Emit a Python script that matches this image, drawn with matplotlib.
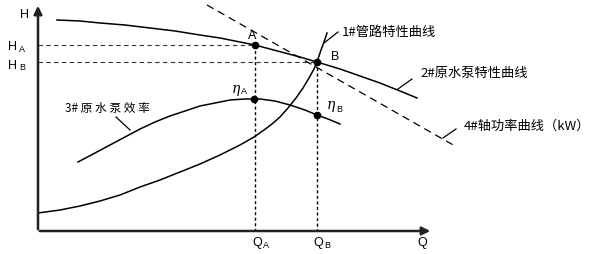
import matplotlib.pyplot as plt

plt.rcParams['font.family'] = ['Noto Sans CJK SC', 'DejaVu Sans']

# curve points (pixel space, y grows downward)
pump_x = [57, 80, 100, 125, 150, 175, 200, 220, 240, 255, 270, 285, 300, 317, 340, 360, 380, 400, 417]
pump_y = [20, 21, 23, 25, 28, 31, 35, 38, 42, 45, 49, 53, 57, 62, 69, 76, 83, 91, 98]

pipe_x = [38, 60, 80, 100, 120, 140, 160, 180, 200, 220, 240, 254, 264, 272, 280, 288, 296, 303, 309, 314, 317, 321, 324, 327]
pipe_y = [213, 210, 206, 201, 195, 187, 180, 172, 164, 155, 145, 137, 130, 124, 117, 108, 98, 88, 78, 69, 62, 50, 42, 33]

eff_x = [78, 95, 110, 125, 140, 155, 170, 185, 200, 215, 230, 245, 260, 275, 290, 305, 317, 328, 340]
eff_y = [162, 153, 145, 137, 129, 122, 116, 111, 106, 103, 100, 99, 99, 101, 105, 110, 115, 119, 124]

power_x = [207, 455]
power_y = [5, 146]

# operating points
pt_A = (255, 45)
pt_B = (317, 62)
eta_A = (254, 99)
eta_B = (317, 115)

labels = ['1#管路特性曲线', '2#原水泵特性曲线', '3# 原 水 泵 效 率', '4#轴功率曲线（kW）']


def main():
    fig = plt.figure(figsize=(6.08, 2.54), dpi=100)
    ax = fig.add_axes([0, 0, 1, 1])
    ax.set_xlim(0, 608)
    ax.set_ylim(254, 0)
    ax.axis('off')

    #axes with arrows
    ax.annotate('', xy=(38, 3), xytext=(38, 232),
                arrowprops=dict(arrowstyle='-|>', color='#222222', lw=1.8, mutation_scale=12))
    ax.annotate('', xy=(433, 231), xytext=(37, 231),
                arrowprops=dict(arrowstyle='-|>', color='#222222', lw=1.8, mutation_scale=12))

    #curves
    ax.plot(pump_x, pump_y, color='black', lw=1.1)
    ax.plot(pipe_x, pipe_y, color='black', lw=1.1)
    ax.plot(eff_x, eff_y, color='black', lw=1.1)
    ax.plot(power_x, power_y, color='black', lw=0.9, dashes=(6, 4))

    #guide lines
    ax.plot([38, pt_A[0]], [pt_A[1], pt_A[1]], color='#333333', lw=0.8, dashes=(4, 3))
    ax.plot([38, pt_B[0]], [pt_B[1], pt_B[1]], color='#333333', lw=0.8, dashes=(4, 3))
    ax.plot([pt_A[0], pt_A[0]], [pt_A[1], 231], color='black', lw=1.0, dashes=(2.2, 1.8))
    ax.plot([pt_B[0], pt_B[0]], [pt_B[1], 231], color='black', lw=1.0, dashes=(2.2, 1.8))

    for p in [pt_A, pt_B, eta_A, eta_B]:
        ax.plot(p[0], p[1], 'o', color='black', ms=4.5)

    #leader lines
    ax.plot([324, 338], [43, 32], color='black', lw=0.9)
    ax.plot([398, 412], [89, 79], color='black', lw=0.9)
    ax.plot([116, 130], [117, 130], color='black', lw=0.9)
    ax.plot([443, 456], [138, 129], color='black', lw=0.9)

    #text
    lab = dict(family='Liberation Sans', fontsize=9, color='black')
    sub = dict(family='Liberation Sans', fontsize=6.5, color='black')
    ax.text(20, 15, 'H', ha='left', va='center', **lab)
    ax.text(8, 47, 'H', ha='left', va='center', **lab)
    ax.text(19, 49, 'A', ha='left', va='center', **sub)
    ax.text(8, 66, 'H', ha='left', va='center', **lab)
    ax.text(19, 68, 'B', ha='left', va='center', **sub)
    ax.text(252, 243, 'Q', ha='left', va='center', **lab)
    ax.text(263, 245, 'A', ha='left', va='center', **sub)
    ax.text(313, 243, 'Q', ha='left', va='center', **lab)
    ax.text(324, 245, 'B', ha='left', va='center', **sub)
    ax.text(417, 243, 'Q', ha='left', va='center', **lab)
    ax.text(252, 36, 'A', ha='center', va='center', **lab)
    ax.text(335, 57, 'B', ha='center', va='center', **lab)
    ax.text(232, 89, 'η', ha='left', va='center', family='DejaVu Serif', fontsize=10, style='italic')
    ax.text(241, 92, 'A', ha='left', va='center', **sub)
    ax.text(327, 105, 'η', ha='left', va='center', family='DejaVu Serif', fontsize=10, style='italic')
    ax.text(336, 109, 'B', ha='left', va='center', **sub)

    ax.text(342, 32, labels[0], ha='left', va='center', fontsize=9.5)
    ax.text(420, 73, labels[1], ha='left', va='center', fontsize=9.5)
    ax.text(65, 108, labels[2], ha='left', va='center', fontsize=8.5)
    ax.text(464, 126, labels[3], ha='left', va='center', fontsize=9.5)

    fig.savefig('out.png', dpi=100)


if __name__ == "__main__":
    main()
